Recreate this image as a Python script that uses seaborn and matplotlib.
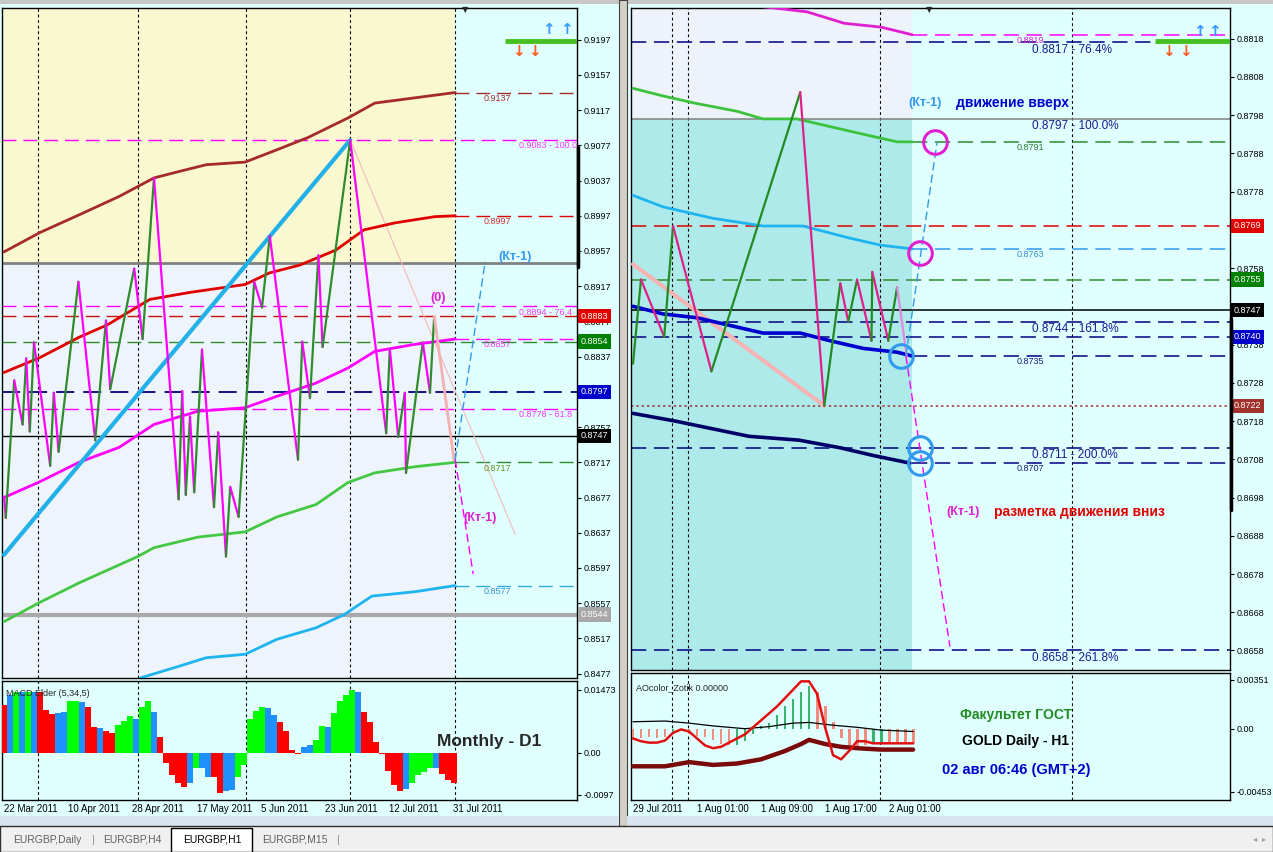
import numpy as np
import matplotlib
matplotlib.use("Agg")
import matplotlib.pyplot as plt
import matplotlib.transforms as mtransforms
from matplotlib.patches import Rectangle
from matplotlib.lines import Line2D
import seaborn as sns

sns.set_style("white")
plt.rcParams['font.family'] = ['Liberation Sans', 'DejaVu Sans']

# ================= left window : EURGBP daily =================
left_dates = ["22 Mar 2011", "10 Apr 2011", "28 Apr 2011", "17 May 2011",
              "5 Jun 2011", "23 Jun 2011", "12 Jul 2011", "31 Jul 2011"]

# zigzag vertices
lz_bar = [0, 0.3, 1.7, 3.1, 3.7, 4.3, 5.0, 7.7, 8.3, 9.1,
          12.4, 15.2, 17.0, 17.7, 21.7, 23.1, 25.0, 29.1, 29.7, 30.3,
          31.0, 31.7, 33.0, 35.0, 35.7, 37.0, 37.7, 39.1, 41.7, 43.0,
          44.3, 49.0, 49.7, 51.0, 52.4, 53.1, 57.7, 63.7, 64.3, 65.7,
          66.8, 67.0, 69.8, 71.0, 71.7]
lz_price = [0.8678, 0.8654, 0.8810, 0.8760, 0.8835, 0.8752, 0.8853, 0.8713, 0.8796, 0.8729,
            0.8922, 0.8742, 0.8878, 0.8800, 0.8937, 0.8857, 0.9040, 0.8675, 0.8798, 0.8680,
            0.8769, 0.8683, 0.8845, 0.8666, 0.8751, 0.8610, 0.8689, 0.8655, 0.8922, 0.8893,
            0.8974, 0.8720, 0.8854, 0.8790, 0.8952, 0.8848, 0.9083, 0.8750, 0.8846, 0.8746,
            0.8796, 0.8705, 0.8853, 0.8796, 0.8883]
lz_last_bar = [71.7, 75.0]
lz_last_price = [0.8883, 0.8720]

# moving averages
l_brown_bar = [0, 6, 12.5, 19.2, 25, 29, 33.7, 40.2, 45.5, 50.7, 57.3, 61.8, 68.5, 75.2]
l_brown = [0.8956, 0.8978, 0.8998, 0.9019, 0.9040, 0.9047, 0.9055, 0.9058, 0.9072, 0.9086,
           0.9108, 0.9125, 0.9131, 0.9137]
l_red_bar = [0, 6, 12.5, 17.2, 24.3, 31, 40.2, 44.2, 49.3, 55.3, 60, 65.2, 71.8, 75.2]
l_red = [0.8819, 0.8836, 0.8859, 0.8873, 0.8902, 0.8910, 0.8919, 0.8932, 0.8941, 0.8958,
         0.8981, 0.8989, 0.8996, 0.8997]
l_mag_bar = [0, 6, 12.5, 19.2, 25, 32.3, 40.2, 45.5, 52, 57.3, 61.8, 68.5, 75.2]
l_mag = [0.8677, 0.8695, 0.8717, 0.8734, 0.8760, 0.8775, 0.8779, 0.8792, 0.8807, 0.8824,
         0.8843, 0.8851, 0.8857]
l_green_bar = [0, 6, 12.5, 22.3, 25, 32.3, 40.2, 45.5, 52, 57.3, 61.8, 68.5, 75.2]
l_green = [0.8536, 0.8558, 0.8580, 0.8610, 0.8620, 0.8632, 0.8638, 0.8655, 0.8669, 0.8694,
           0.8705, 0.8712, 0.8717]
l_cyan_bar = [22.7, 29, 33.7, 40.2, 45.5, 52, 56.7, 61.3, 68.5, 75.2]
l_cyan = [0.8472, 0.8485, 0.8495, 0.8499, 0.8516, 0.8529, 0.8544, 0.8565, 0.8570, 0.8577]
l_trend_bar = [0, 57.7]
l_trend = [0.8612, 0.9083]

# projections
l_up_bar, l_up = [75.2, 80.2], [0.8720, 0.8945]
l_dn_bar, l_dn = [75.2, 78.2], [0.8720, 0.8590]
l_fade_bar, l_fade = [57.7, 85.2], [0.9083, 0.8635]

# horizontal levels
l_full_lvl = [0.9083, 0.8894, 0.8883, 0.8854, 0.8797, 0.8778, 0.8747, 0.8943, 0.8544]
l_full_col = ['#FF00FF', '#FF00FF', '#CC1010', '#2E8B2E', '#000080', '#FF00FF', 'black', '#808080', '#A9A9A9']
l_full_ls = ['d', 'd', 'd', 'd', 'd', 'd', 's', 's', 's']
l_full_lw = [1, 1, 1, 1, 1.3, 1, 1, 2, 3]
l_fut_lvl = [0.9137, 0.8997, 0.8857, 0.8717, 0.8577]
l_fut_col = ['#A52A2A', '#E00000', '#FF00FF', '#2E8B2E', '#33AADD']
l_fut_txt = ['#A52A2A', '#D03030', '#FF33FF', '#6B8E23', '#3A8FD0']
l_fib_lvl = [0.9083, 0.8894, 0.8778]
l_fib_txt = ["0.9083 - 100.0", "0.8894 - 76.4", "0.8778 - 61.8"]
l_box_lvl = [0.8883, 0.8854, 0.8797, 0.8747, 0.8544]
l_box_col = ['#E00000', '#008000', '#0000CC', 'black', '#A8A8A8']

# MACD Elder (5,34,5)
macd_vals = [0.0111, 0.0136, 0.0143, 0.0143, 0.0143, 0.0143, 0.0143, 0.0099, 0.0090, 0.0094,
             0.0095, 0.0121, 0.0121, 0.0118, 0.0108, 0.0060, 0.0058, 0.0050, 0.0047, 0.0065,
             0.0075, 0.0086, 0.0080, 0.0108, 0.0122, 0.0095, 0.0038, -0.0024, -0.0051, -0.0070,
             -0.0078, -0.0070, -0.0034, -0.0034, -0.0055, -0.0055, -0.0093, -0.0089, -0.0085, -0.0055,
             -0.0028, 0.0079, 0.0098, 0.0108, 0.0105, 0.0088, 0.0071, 0.0052, 0.0006, -0.0002,
             0.0014, 0.0018, 0.0031, 0.0062, 0.0060, 0.0094, 0.0121, 0.0136, 0.0146, 0.0143,
             0.0095, 0.0071, 0.0025, -0.0002, -0.0043, -0.0074, -0.0088, -0.0083, -0.0070, -0.0051,
             -0.0045, -0.0036, -0.0034, -0.0050, -0.0063, -0.0070]
macd_cols = "rbgbgbrrrb" "bggbrrbrrg" "ggbggbrrrr" "rbgbbrrbbg" "ggggbbrrrr" "bbggbggggb" "rrrrrrrbgg" "ggbrrr"

# ================= right window : H1 =================
right_dates = ["29 Jul 2011", "1 Aug 01:00", "1 Aug 09:00", "1 Aug 17:00", "2 Aug 01:00"]

rz_bar = [0, 1.0, 3.9, 5.0, 9.8, 20.9, 23.9, 25.9, 26.9, 28.0, 29.8, 29.9, 31.9, 33.0]
rz_price = [0.8733, 0.8755, 0.8740, 0.8769, 0.8731, 0.8804, 0.8722, 0.8754, 0.8744, 0.8755,
            0.8739, 0.8757, 0.8739, 0.8753]
rz_last_bar = [33.0, 34.2]
rz_last_price = [0.8753, 0.8735]

r_mag_bar = [13.5, 21.75, 26.4, 31, 34.9]
r_mag = [0.8827, 0.8825, 0.8822, 0.8821, 0.8819]
r_green_bar = [0, 3.75, 8, 13, 16.25, 20.5, 24.6, 28.75, 33, 34.9]
r_green = [0.8805, 0.8803, 0.8801, 0.8799, 0.8797, 0.8797, 0.8795, 0.8793, 0.8791, 0.8791]
r_cyan_bar = [0, 3.75, 10, 16.25, 21.25, 26.75, 30.9, 34.9]
r_cyan = [0.8777, 0.8774, 0.8771, 0.8769, 0.8769, 0.8766, 0.8764, 0.8763]
r_blue_bar = [0, 3.75, 8, 12.1, 16.25, 20.9, 24.6, 28.75, 33, 34.9]
r_blue = [0.8748, 0.8746, 0.8745, 0.8743, 0.8741, 0.8741, 0.8739, 0.8737, 0.8736, 0.8735]
r_navy_bar = [0, 5.25, 14.5, 20.75, 25.9, 30, 34.6]
r_navy = [0.8720, 0.8718, 0.8714, 0.8713, 0.8711, 0.8709, 0.8707]
r_pink_bar, r_pink = [0, 23.9], [0.8759, 0.8722]

r_up_bar, r_up = [34.1, 38.0], [0.8735, 0.8791]
r_dn_bar, r_dn = [34.1, 39.6], [0.8735, 0.8659]

circ_bar = [37.75, 35.9, 33.5, 35.9, 35.9]
circ_price = [0.8791, 0.8762, 0.8735, 0.8711, 0.8707]
circ_col = ['#E020D0', '#E020D0', '#3399EE', '#3399EE', '#3399EE']

r_full_lvl = [0.8817, 0.8797, 0.8769, 0.8755, 0.8747, 0.8744, 0.8740, 0.8722, 0.8711, 0.8658]
r_full_col = ['#000080', '#808080', '#E00000', '#2E8B2E', 'black', '#000080', '#000080', '#A52A2A',
              '#000080', '#000080']
r_full_ls = ['d', 's', 'd', 'd', 's', 'd', 'd', 'o', 'd', 'd']
r_fut_lvl = [0.8819, 0.8791, 0.8763, 0.8735, 0.8707]
r_fut_col = ['#FF00FF', '#2E8B2E', '#3399EE', '#000080', '#000080']
r_fut_txt = ['#E020D0', '#2E7D32', '#3A8FD0', '#1A1A80', '#1A1A80']
r_fib_lvl = [0.8817, 0.8797, 0.8744, 0.8711, 0.8658]
r_fib_txt = ["0.8817 - 76.4%", "0.8797 - 100.0%", "0.8744 - 161.8%", "0.8711 - 200.0%", "0.8658 - 261.8%"]
r_box_lvl = [0.8769, 0.8755, 0.8747, 0.8740, 0.8722]
r_box_col = ['#E00000', '#008000', 'black', '#0000CC', '#A0312B']

# AOcolor_Zotik
ao_vals = [-0.0008, -0.0007, -0.0006, -0.0007, -0.0006, -0.0004, -0.0002, -0.0004, -0.0005, -0.0006,
           -0.0008, -0.0011, -0.0012, -0.0012, -0.0009, -0.0004, 0.0002, 0.0004, 0.0010, 0.0016,
           0.0021, 0.0026, 0.0031, 0.0026, 0.0016, 0.0005, -0.0007, -0.0013, -0.0013, -0.0012,
           -0.0011, -0.0010, -0.0010, -0.0010, -0.0010, -0.0010]
ao_up = [0, 0, 0, 0, 0, 1, 1, 0, 0, 0, 0, 0, 0, 1, 1, 1, 1, 1, 1, 1,
         1, 1, 1, 0, 0, 0, 0, 0, 0, 0, 1, 1, 0, 0, 0, 0]
ao_red = [-0.0007, -0.0009, -0.0010, -0.0010, -0.00085, -0.0003, -0.00005, -0.0002, -0.0007, -0.0012,
          -0.0014, -0.0013, -0.0010, -0.0007, -0.0004, 0.0001, 0.0006, 0.0011, 0.0016, 0.0022,
          0.0028, 0.0034, 0.0034, 0.0025, 0.0001, -0.0019, -0.0022, -0.0016, -0.0009, -0.0009,
          -0.00105, -0.00105, -0.00105, -0.00105, -0.00105, -0.00105]
ao_sig_bar = [0, 4, 7, 10, 14, 17, 20, 22, 25, 28, 31, 35]
ao_sig = [0.0005, 0.00055, 0.0004, 0.0002, 0.0, 0.00015, 0.0004, 0.00045, 0.00025, 0.0001, -0.0001, -0.0002]
ao_dr_bar = [0, 4, 7, 10, 13, 16, 19, 21, 22, 24, 26, 28, 31, 35]
ao_dr = [-0.0027, -0.0027, -0.0024, -0.0026, -0.0025, -0.0022, -0.0016, -0.0011, -0.0008, -0.0011,
         -0.0013, -0.0014, -0.0015, -0.0015]

# ================= layout =================
W, H = 1273, 852
BG = '#E0FFFF'
DASH = (0, (10, 5))
DOT = (0, (2.5, 2.5))
LS = {'d': DASH, 's': '-', 'o': (0, (1.5, 2))}

fig = plt.figure(figsize=(W / 100, H / 100), dpi=100)
fig.patch.set_facecolor(BG)


def frac(x0, y0, x1, y1):
    return [x0 / W, 1 - y1 / H, (x1 - x0) / W, (y1 - y0) / H]


def fig_rect(x0, y0, x1, y1, fc, ec='none', lw=0, z=-5):
    fig.add_artist(Rectangle((x0 / W, 1 - y1 / H), (x1 - x0) / W, (y1 - y0) / H,
                             transform=fig.transFigure, facecolor=fc, edgecolor=ec, lw=lw, zorder=z))


def fig_vline(x, y0, y1, lw=2.5, color='black'):
    fig.add_artist(Line2D([x / W, x / W], [1 - y0 / H, 1 - y1 / H], transform=fig.transFigure,
                          color=color, lw=lw, zorder=20))


def style(ax, xlim, ylim):
    ax.set_facecolor(BG)
    ax.set_xlim(*xlim)
    ax.set_ylim(*ylim)
    for s in ax.spines.values():
        s.set_color('black')
        s.set_linewidth(1)
    ax.yaxis.tick_right()
    ax.tick_params(axis='y', labelsize=6.5, length=3, width=0.8, pad=2, colors='black')
    ax.tick_params(axis='x', labelsize=7, length=0, pad=3, colors='black')
    ax.set_xlabel('')
    ax.set_ylabel('')


def price_ticks(ax, ticks, boxes, tol):
    # labels hidden under a coloured price box are left out
    ax.set_yticks(ticks)
    ax.set_yticklabels(['' if any(abs(t - b) < tol for b in boxes) else f"{t:.4f}" for t in ticks])


def ma(ax, xs, ys, color, lw=2.0, z=4):
    sns.lineplot(x=xs, y=ys, ax=ax, color=color, linewidth=lw, sort=False, estimator=None, zorder=z)


def zigzag(ax, xs, ys, up, down, lw=1.6):
    for i in range(len(xs) - 1):
        c = up if ys[i + 1] > ys[i] else down
        ax.plot(xs[i:i + 2], ys[i:i + 2], color=c, lw=lw, zorder=5, solid_capstyle='round')


def price_box(ax, y, text, fc):
    tr = mtransforms.blended_transform_factory(ax.transAxes, ax.transData)
    ax.text(1.006, y, text, transform=tr, ha='left', va='center', fontsize=6.5, color='white',
            bbox=dict(boxstyle='square,pad=0.3', fc=fc, ec='none'), clip_on=False, zorder=10)


def lvl_text(ax, x, y, text, color, size=6.5):
    ax.annotate(text, (x, y), xytext=(0, -1), textcoords='offset points', ha='left', va='top',
                fontsize=size, color=color, clip_on=True, zorder=6)


# window chrome
fig_rect(0, 0, 1273, 4, '#C8C8C8')
fig_rect(619, 0, 627, 826, '#D4D0C8', ec='#404040', lw=0.8)
fig_rect(0, 816, 619, 826, '#D8E4F0')
fig_rect(627, 816, 1273, 826, '#D8E4F0')
fig_rect(0, 826, 1273, 852, '#F0F0F0', ec='#303030', lw=1)
fig_rect(171, 828, 252, 852, 'white', ec='black', lw=1, z=-4)
for tx, lab, col in [(13, "EURGBP,Daily", '#606060'), (103, "EURGBP,H4", '#606060'),
                     (183, "EURGBP,H1", 'black'), (262, "EURGBP,M15", '#606060')]:
    fig.text(tx / W, 1 - 840 / H, lab, fontsize=7.5, color=col, va='center', ha='left')
for sx in [92, 337]:
    fig.text(sx / W, 1 - 840 / H, '|', fontsize=8, color='#909090', va='center')
fig.text(1253 / W, 1 - 840 / H, '◂  ▸', fontsize=6, color='#A0A0A0', va='center')

# ---------------- left main ----------------
LX = (-0.333, 95.5)
LY = (0.8472, 0.9233)
L_NOW = 75.2
axL = fig.add_axes(frac(2, 8, 577, 678))
axL.fill_between([LX[0], L_NOW], 0.8943, LY[1], color='#FAF8D0', lw=0, zorder=0)
axL.fill_between([LX[0], L_NOW], LY[0], 0.8943, color='#EEF4FB', lw=0, zorder=0)
for xv in [5.7, 22.3, 40.3, 57.7, L_NOW]:
    axL.axvline(xv, color='black', lw=0.8, ls=DOT, zorder=1)
for y, c, s, w in zip(l_full_lvl, l_full_col, l_full_ls, l_full_lw):
    axL.plot(LX, [y, y], color=c, ls=LS[s], lw=w, zorder=2)
for y, c in zip(l_fut_lvl, l_fut_col):
    axL.plot([L_NOW, LX[1]], [y, y], color=c, ls=DASH, lw=1, zorder=2)
for y, c in zip(l_fut_lvl, l_fut_txt):
    lvl_text(axL, 80.0, y, f"{y:.4f}", c)
for y, t in zip(l_fib_lvl, l_fib_txt):
    lvl_text(axL, 85.9, y, t, '#FF33FF')
ma(axL, l_brown_bar, l_brown, '#A52A2A')
ma(axL, l_red_bar, l_red, '#E00000')
ma(axL, l_mag_bar, l_mag, '#FF00FF')
ma(axL, l_green_bar, l_green, '#44C844')
ma(axL, l_cyan_bar, l_cyan, '#1EB4F0')
ma(axL, l_trend_bar, l_trend, '#22B0E8', lw=3)
zigzag(axL, lz_bar, lz_price, '#2E8B2E', '#FF00FF')
axL.plot(lz_last_bar, lz_last_price, color='#F4B0B0', lw=2, zorder=5)
axL.plot(l_fade_bar, l_fade, color='#F4B8B8', lw=0.8, zorder=3)
axL.plot(l_up_bar, l_up, color='#3399EE', lw=1, ls=(0, (6, 3)), zorder=5)
axL.plot(l_dn_bar, l_dn, color='#FF00FF', lw=1, ls=(0, (6, 3)), zorder=5)
axL.plot([83.5, LX[1]], [0.9195, 0.9195], color='#44C022', lw=3.5, zorder=6, solid_capstyle='butt')
style(axL, LX, LY)
axL.set_xticks([])
price_ticks(axL, np.arange(0.8477, 0.9200, 0.004), l_box_lvl, 0.00057)
for y, c in zip(l_box_lvl, l_box_col):
    price_box(axL, y, f"{y:.4f}", c)
axL.text(85.2, 0.8950, "(Кт-1)", color='#3399EE', fontsize=9, fontweight='bold', ha='center', va='center')
axL.text(72.3, 0.8904, "(0)", color='#E020D0', fontsize=9, fontweight='bold', ha='center', va='center')
axL.text(79.3, 0.8654, "(Кт-1)", color='#E020D0', fontsize=9, fontweight='bold', ha='center', va='center')

# ---------------- left MACD ----------------
axLm = fig.add_axes(frac(2, 681, 577, 800))
cmap = {'r': '#FF0000', 'b': '#1E90FF', 'g': '#00FF00'}
axLm.bar(np.arange(len(macd_vals)), macd_vals, width=1.0, color=[cmap[c] for c in macd_cols], lw=0, zorder=3)
for xv in [5.7, 22.3, 40.3, 57.7, L_NOW]:
    axLm.axvline(xv, color='black', lw=0.8, ls=DOT, zorder=1)
style(axLm, LX, (-0.01094, 0.01675))
axLm.set_yticks([0.01473, 0.0, -0.0097])
axLm.set_yticklabels(["0.01473", "0.00", "-0.0097"])
axLm.set_xticks(np.arange(len(left_dates)) * 10.7)
axLm.set_xticklabels(left_dates, ha='left')
axLm.text(0.007, 0.93, "MACD Elder (5,34,5)", transform=axLm.transAxes, fontsize=6.5, va='top', zorder=8)
axLm.text(0.848, 0.49, "Monthly - D1", transform=axLm.transAxes, fontsize=12.5, fontweight='bold',
          ha='center', va='center', zorder=8)

# ---------------- right main ----------------
RX = (-0.25, 74.6)
RY = (0.86529, 0.88260)
R_NOW = 34.9
axR = fig.add_axes(frac(631, 8, 1230, 670))
axR.fill_between([RX[0], R_NOW], 0.8797, RY[1], color='#EEF3FB', lw=0, zorder=0)
axR.fill_between([RX[0], R_NOW], RY[0], 0.8797, color='#AEEAEA', lw=0, zorder=0)
for xv in [4.9, 6.9, 30.9, 54.9]:
    axR.axvline(xv, color='black', lw=0.8, ls=DOT, zorder=1)
for y, c, s in zip(r_full_lvl, r_full_col, r_full_ls):
    axR.plot(RX, [y, y], color=c, ls=LS[s], lw=1.1, zorder=2)
for y, c in zip(r_fut_lvl, r_fut_col):
    axR.plot([R_NOW, RX[1]], [y, y], color=c, ls=DASH, lw=1.1, zorder=2)
for y, c in zip(r_fut_lvl, r_fut_txt):
    lvl_text(axR, 47.9, y, f"{y:.4f}", c)
for y, t in zip(r_fib_lvl, r_fib_txt):
    lvl_text(axR, 49.9, y, t, '#1A1A90', size=8.5)
ma(axR, r_pink_bar, r_pink, '#F4B4B4', lw=3, z=3)
ma(axR, r_mag_bar, r_mag, '#E020D0')
ma(axR, r_green_bar, r_green, '#3CC23C')
ma(axR, r_cyan_bar, r_cyan, '#1EB4F0')
ma(axR, r_blue_bar, r_blue, '#0000CD', lw=2.6)
ma(axR, r_navy_bar, r_navy, '#000066', lw=2.6)
zigzag(axR, rz_bar, rz_price, '#228B22', '#E0208A')
axR.plot(rz_last_bar, rz_last_price, color='#DD88DD', lw=1.6, zorder=5)
axR.plot(r_up_bar, r_up, color='#3399EE', lw=1, ls=(0, (6, 3)), zorder=5)
axR.plot(r_dn_bar, r_dn, color='#FF00FF', lw=1, ls=(0, (6, 3)), zorder=5)
for bx, py, c in zip(circ_bar, circ_price, circ_col):
    axR.plot([bx], [py], marker='o', ms=17, mfc='none', mec=c, mew=2.2, zorder=7)
axR.plot([65.25, RX[1]], [0.88175, 0.88175], color='#44C022', lw=3.5, zorder=6, solid_capstyle='butt')
style(axR, RX, RY)
axR.set_xticks([])
price_ticks(axR, np.arange(0.8658, 0.8819, 0.001), r_box_lvl, 0.00013)
for y, c in zip(r_box_lvl, r_box_col):
    price_box(axR, y, f"{y:.4f}", c)
axR.text(34.4, 0.88012, "(Кт-1)", color='#3399EE', fontsize=9, fontweight='bold', ha='left', va='center')
axR.text(40.3, 0.88012, "движение вверх", color='#0000CC', fontsize=10, fontweight='bold', ha='left', va='center')
axR.text(39.2, 0.86942, "(Кт-1)", color='#E020D0', fontsize=9, fontweight='bold', ha='left', va='center')
axR.text(45.1, 0.86942, "разметка движения вниз", color='#E00000', fontsize=10, fontweight='bold',
         ha='left', va='center')

# ---------------- right AO ----------------
axRa = fig.add_axes(frac(631, 673, 1230, 800))
axRa.bar(np.arange(len(ao_vals)), ao_vals, width=0.36,
         color=['#3CB371' if u else '#F08C80' for u in ao_up], lw=0, zorder=3)
ma(axRa, ao_sig_bar, ao_sig, 'black', lw=0.9, z=4)
ma(axRa, list(range(len(ao_red))), ao_red, '#E01010', lw=1.8, z=5)
ma(axRa, ao_dr_bar, ao_dr, '#7A0A0A', lw=3.2, z=4)
for xv in [4.9, 6.9, 30.9, 54.9]:
    axRa.axvline(xv, color='black', lw=0.8, ls=DOT, zorder=1)
style(axRa, RX, (-0.00512, 0.0040))
axRa.set_yticks([0.00351, 0.0, -0.00453])
axRa.set_yticklabels(["0.00351", "0.00", "-0.00453"])
axRa.set_xticks([0, 8, 16, 24, 32])
axRa.set_xticklabels(right_dates, ha='left')
axRa.text(0.008, 0.92, "AOcolor_Zotik 0.00000", transform=axRa.transAxes, fontsize=6.5, va='top', zorder=8)
fig.text(1016 / W, 1 - 715 / H, "Факультет ГОСТ", color='#228B22', fontsize=10, fontweight='bold',
         ha='center', va='center', zorder=30)
fig.text(1015 / W, 1 - 741 / H, "GOLD Daily - H1", color='black', fontsize=10, fontweight='bold',
         ha='center', va='center', zorder=30)
fig.text(1016 / W, 1 - 770 / H, "02 авг 06:46 (GMT+2)", color='#0000CC', fontsize=10.5, fontweight='bold',
         ha='center', va='center', zorder=30)

# arrows, shift markers, scroll marks
for x, y, t, c in [(548, 30, '↑', '#3399FF'), (566, 30, '↑', '#3399FF'),
                   (518, 52, '↓', '#FF5A1F'), (534, 52, '↓', '#FF5A1F'),
                   (1199, 31, '↑', '#3399FF'), (1214, 31, '↑', '#3399FF'),
                   (1168, 51, '↓', '#FF5A1F'), (1185, 51, '↓', '#FF5A1F')]:
    fig.text(x / W, 1 - y / H, t, color=c, fontsize=11, fontweight='bold', ha='center', va='center',
             family='DejaVu Sans', zorder=30)
for x in [465, 929]:
    fig.text(x / W, 1 - 10 / H, '▼', fontsize=6, ha='center', va='center', family='DejaVu Sans', zorder=30)
fig_vline(578, 147, 267)
fig_vline(1231, 318, 510)

fig.savefig("out.png", dpi=100, facecolor=fig.get_facecolor())
